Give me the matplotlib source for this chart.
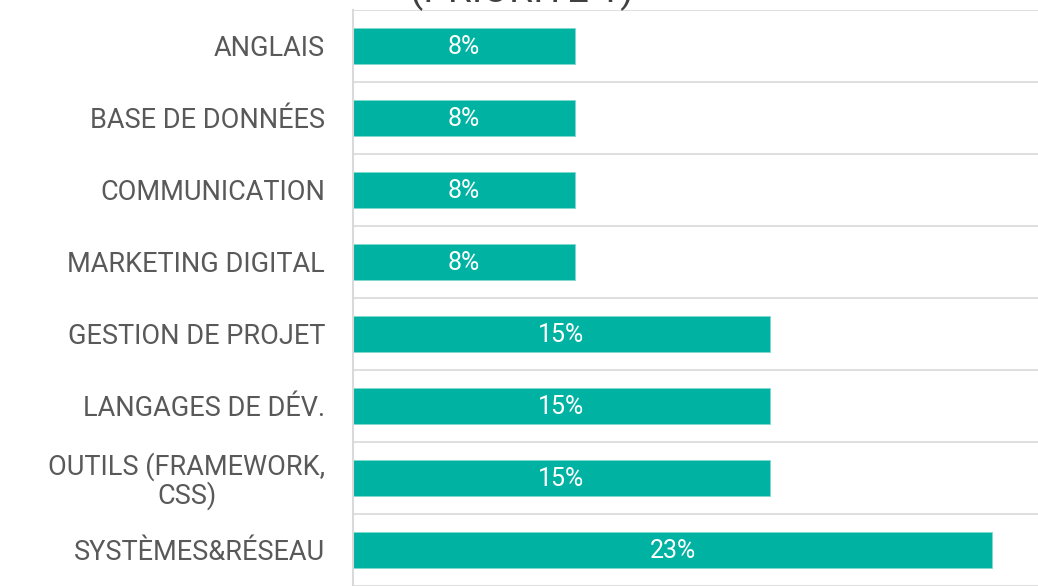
import matplotlib.pyplot as plt
import numpy as np

categories = ['ANGLAIS', 'BASE DE DONNÉES', 'COMMUNICATION', 'MARKETING DIGITAL',
              'GESTION DE PROJET', 'LANGAGES DE DÉV.', 'OUTILS (FRAMEWORK,\nCSS)',
              'SYSTÈMES&RÉSEAU']
values = [8, 8, 8, 8, 15, 15, 15, 23]
labels = ['8%', '8%', '8%', '8%', '15%', '15%', '15%', '23%']
title = '(PRIORITÉ 1)'

plt.rcParams['font.family'] = ['Roboto', 'DejaVu Sans']

fig = plt.figure(figsize=(10.38, 5.86), dpi=100)
ax = fig.add_axes([353 / 1038, 0, 1 - 353 / 1038, 576 / 586])

y_pos = np.arange(len(categories))
bars = ax.barh(y_pos, values, height=0.49, color='#00b2a2', edgecolor='#7fd8d0', linewidth=0.6)

for b, t in zip(bars, labels):
    ax.text(b.get_width() / 2, b.get_y() + b.get_height() / 2 + 0.02, t,
            ha='center', va='center', color='white', fontsize=18)

ax.set_xlim(0, 24.65)
ax.set_ylim(len(categories) - 0.5, -0.5)
ax.set_yticks(y_pos)
ax.set_yticklabels(categories, fontsize=19.5, color='#595959', multialignment='center',
                   linespacing=1.0)
ax.set_yticks(np.arange(len(categories) + 1) - 0.5, minor=True)
ax.grid(which='minor', axis='y', color='#d9d9d9', linewidth=1.2)
ax.set_axisbelow(True)
ax.tick_params(axis='y', which='both', length=0, pad=20)
ax.set_xticks([])

for s in ['top', 'right', 'bottom']:
    ax.spines[s].set_visible(False)
ax.spines['left'].set_color('#d9d9d9')
ax.spines['left'].set_linewidth(1.5)

fig.text(0.503, 1 - 2 / 586, title, ha='center', va='baseline',
         fontsize=28, color='#404040')

plt.savefig('out.png', dpi=100)
plt.close()
